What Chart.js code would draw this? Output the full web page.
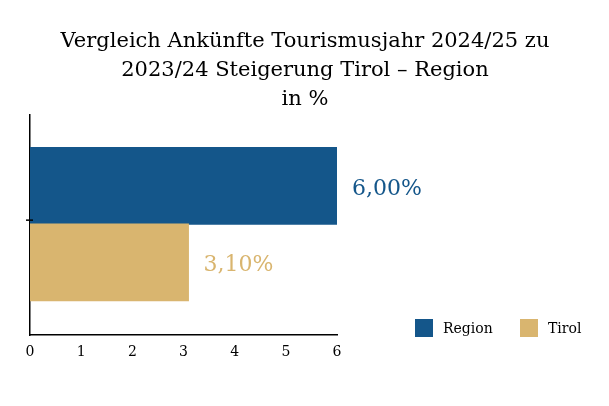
<!DOCTYPE html>
<html><head><meta charset="utf-8">
<script src="https://cdn.jsdelivr.net/npm/chart.js@4"></script>
<style>body{margin:0;background:#fff}#w{width:609px;height:406px}</style>
</head><body><div id="w"><canvas id="c"></canvas></div>
<script>
const categories = ["Region", "Tirol"];
const values = [6.0, 3.1];
const labels = ["6,00%", "3,10%"];
const colors = ["#14568a", "#d9b56f"];
const xTicks = [0,1,2,3,4,5,6];
const titleLines = ["Vergleich Ankünfte Tourismusjahr 2024/25 zu", "2023/24 Steigerung Tirol – Region", "in %"];
const F = "'DejaVu Serif', serif";

const extras = {
  id:'extras',
  afterDatasetsDraw(chart){
    const ctx=chart.ctx, meta=chart.getDatasetMeta(0);
    ctx.save();
    ctx.fillStyle="#000"; ctx.textAlign='center'; ctx.textBaseline='middle';
    ctx.font="21px "+F;
    titleLines.forEach((t,i)=>ctx.fillText(t, 305, 42+i*29));
    ctx.font="22px "+F; ctx.textAlign='left';
    meta.data.forEach((b,i)=>{ctx.fillStyle=colors[i]; ctx.fillText(labels[i], b.x+15, b.y+3);});
    ctx.font="14px "+F;
    const ly=328, xs=[415,520];
    categories.forEach((c,i)=>{ctx.fillStyle=colors[i]; ctx.fillRect(xs[i],ly-9,18,18); ctx.fillStyle="#000"; ctx.fillText(c, xs[i]+28, ly+1);});
    const y=chart.scales.y, mid=(meta.data[0].y+meta.data[1].y)/2-4;
    ctx.strokeStyle="#000"; ctx.lineWidth=1.5;
    ctx.beginPath(); ctx.moveTo(y.right-4,mid); ctx.lineTo(y.right+3,mid); ctx.stroke();
    ctx.restore();
  }
};

new Chart(document.getElementById('c'),{
  type:'bar',
  data:{datasets:[{data:values.map((v,i)=>({x:v,y:i})),backgroundColor:colors,barThickness:77}]},
  options:{
    indexAxis:'y',responsive:true,maintainAspectRatio:false,animation:false,
    layout:{padding:{left:22,right:272,top:115,bottom:42}},
    plugins:{legend:{display:false},tooltip:{enabled:false},title:{display:false}},
    scales:{
      x:{type:'linear',min:0,max:6,afterBuildTicks(s){s.ticks=xTicks.map(v=>({value:v}));},
        grid:{display:false,drawTicks:true,tickLength:6,color:'#000'},
        border:{color:'#000',width:1.5},
        ticks:{color:'#000',font:{family:F,size:14},padding:3}},
      y:{type:'linear',reverse:true,min:-0.72,max:1.745,grid:{display:false},border:{color:'#000',width:1.5},ticks:{display:false}}
    }
  },
  plugins:[extras]
});
</script></body></html>
